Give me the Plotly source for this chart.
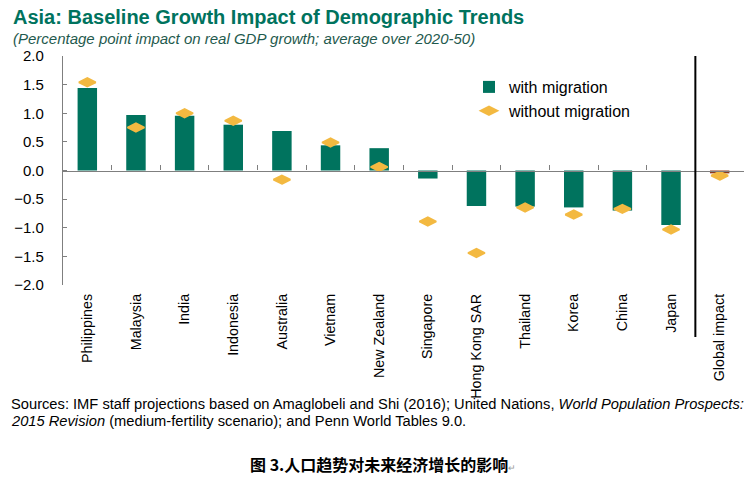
import plotly.graph_objects as go

categories = ["Philippines", "Malaysia", "India", "Indonesia", "Australia", "Vietnam",
              "New Zealand", "Singapore", "Hong Kong SAR", "Thailand", "Korea", "China",
              "Japan", "Global impact"]
with_migration = [1.44, 0.97, 0.955, 0.80, 0.69, 0.44, 0.39, -0.14, -0.62, -0.63, -0.645, -0.70, -0.95, -0.05]
without_migration = [1.54, 0.75, 1.00, 0.87, -0.16, 0.49, 0.06, -0.89, -1.44, -0.645, -0.77, -0.67, -1.03, -0.09]
y_ticks = [2.0, 1.5, 1.0, 0.5, 0.0, -0.5, -1.0, -1.5, -2.0]

GREEN = "#00735E"
GOLD = "#F3B941"
BROWN = "#8E3A1E"
FONT = "Arial, Liberation Sans, sans-serif"

W, H = 751, 488
L, R, T, B = 63, 7, 56, 203
PH = H - T - B
PW = W - L - R


def px(x):
    return (x - L) / PW


def py(y):
    return (H - B - y) / PH


bar_colors = [GREEN] * (len(categories) - 1) + [BROWN]

fig = go.Figure()
fig.add_trace(go.Bar(
    x=categories, y=with_migration, name="with migration",
    marker=dict(color=bar_colors, line=dict(width=0)),
    xaxis="x", yaxis="y",
))
fig.add_trace(go.Scatter(
    x=categories, y=without_migration, name="without migration", mode="markers",
    marker=dict(symbol="diamond-wide", size=12, color=GOLD, line=dict(color=GOLD, width=1.8)),
    xaxis="x2", yaxis="y",
))

fig.update_layout(
    width=W, height=H,
    margin=dict(l=L, r=R, t=T, b=B, pad=0),
    paper_bgcolor="white", plot_bgcolor="white",
    font=dict(family=FONT, color="black", size=15),
    bargap=0.6,
    showlegend=True,
    legend=dict(x=px(469), y=py(70), xanchor="left", yanchor="top",
                font=dict(size=16, family=FONT, color="black"),
                bgcolor="rgba(0,0,0,0)", tracegroupgap=2),
    xaxis=dict(type="category", categoryorder="array", categoryarray=categories,
               showline=False, ticks="", tickangle=-90, showgrid=False, zeroline=False,
               tickfont=dict(size=14.3, family=FONT, color="black"), ticklabelstandoff=5,
               automargin=False,
               range=[-0.5, len(categories) - 0.5]),
    xaxis2=dict(type="category", categoryorder="array", categoryarray=categories,
                overlaying="x", matches="x", anchor="free", position=0.5,
                showline=True, linecolor="#7F7F7F", linewidth=1.3,
                ticks="inside", tickson="boundaries", ticklen=5, tickcolor="#7F7F7F", tickwidth=1.3,
                showticklabels=False, showgrid=False, zeroline=False,
                range=[-0.5, len(categories) - 0.5]),
    yaxis=dict(range=[-2, 2], tickvals=y_ticks, tickformat=".1f",
               showline=True, linecolor="#7F7F7F", linewidth=1.3,
               ticks="inside", ticklen=4, tickcolor="#7F7F7F", tickwidth=1.3,
               showgrid=False, zeroline=False, ticklabelstandoff=15, automargin=False,
               tickfont=dict(size=15, family=FONT, color="black")),
)

fig.add_shape(type="line", xref="x", yref="paper", x0=12.5, x1=12.5,
              y0=py(337), y1=1.0, line=dict(color="black", width=2), layer="above")

fig.add_annotation(text="<b>Asia: Baseline Growth Impact of Demographic Trends</b>",
                   xref="paper", yref="paper", x=px(11), y=py(17), xanchor="left", yanchor="middle",
                   showarrow=False, font=dict(size=20, color="#00735E", family=FONT))
fig.add_annotation(text="<i>(Percentage point impact on real GDP growth; average over 2020-50)</i>",
                   xref="paper", yref="paper", x=px(11), y=py(38), xanchor="left", yanchor="middle",
                   showarrow=False, font=dict(size=15, color="#1F5A4E", family=FONT))
fig.add_annotation(text="Sources: IMF staff projections based on Amaglobeli and Shi (2016); United Nations, "
                        "<i>World Population Prospects:</i>",
                   xref="paper", yref="paper", x=px(9), y=py(404), xanchor="left", yanchor="middle",
                   showarrow=False, font=dict(size=14.7, color="black", family=FONT))
fig.add_annotation(text="<i>2015 Revision</i> (medium-fertility scenario); and Penn World Tables 9.0.",
                   xref="paper", yref="paper", x=px(9), y=py(421), xanchor="left", yanchor="middle",
                   showarrow=False, font=dict(size=14.7, color="black", family=FONT))
fig.add_annotation(text="<b>图 3.人口趋势对未来经济增长的影响</b><span style='font-size:9px;color:#999'>↵</span>",
                   xref="paper", yref="paper", x=px(383), y=py(464), xanchor="center", yanchor="middle",
                   showarrow=False, font=dict(size=16, color="black", family="Noto Sans CJK SC"))

fig.write_html("out.html", config={"displayModeBar": False},
               post_script="document.body.style.margin='0';document.body.style.padding='0';")
